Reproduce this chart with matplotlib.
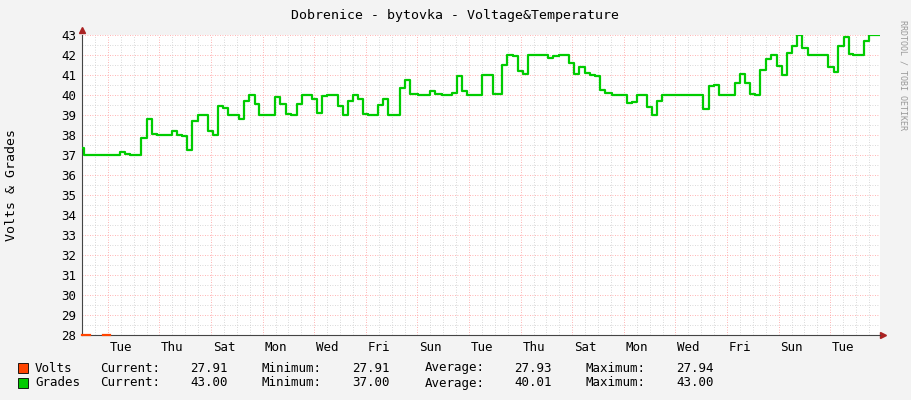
import numpy as np
import matplotlib
matplotlib.use('Agg')
from matplotlib import pyplot as plt

# step series, start times in days since the first Monday 00:00
grades_t = [0, 0.09, 1.47, 1.67, 1.86, 2.29, 2.51, 2.70, 2.90, 3.50, 3.67, 3.89, 4.08,
            4.28, 4.48, 4.90, 5.09, 5.28, 5.48, 5.67, 6.09, 6.29, 6.47, 6.71, 6.87,
            7.48, 7.67, 7.90, 8.10, 8.32, 8.52, 8.90, 9.10, 9.29, 9.48, 9.93, 10.13,
            10.32, 10.52, 10.71, 10.90, 11.10, 11.48, 11.68, 11.87, 12.33, 12.52,
            12.71, 13.03, 13.49, 13.68, 13.94, 14.33, 14.52, 14.72, 14.91, 15.49,
            15.92, 16.27, 16.46, 16.72, 16.91, 17.10, 17.30, 18.07, 18.27, 18.47,
            18.89, 19.08, 19.28, 19.50, 19.69, 19.88, 20.08, 20.27, 20.53, 21.11,
            21.31, 21.50, 21.89, 22.08, 22.28, 22.47, 24.08, 24.31, 24.51, 24.70,
            25.31, 25.50, 25.70, 25.89, 26.09, 26.28, 26.50, 26.71, 26.93, 27.12,
            27.31, 27.51, 27.70, 27.89, 28.15, 28.93, 29.13, 29.32, 29.52, 29.71,
            29.90, 30.32, 30.51, 30.93]
grades_v = [37.35, 37.0, 37.15, 37.07, 37.0, 37.87, 38.8, 38.03, 38.0, 38.2, 38.0, 37.95,
            37.25, 38.7, 39.0, 38.2, 38.0, 39.45, 39.35, 39.0, 38.8, 39.7, 40.0, 39.55,
            39.0, 39.9, 39.55, 39.05, 39.0, 39.55, 40.0, 39.8, 39.1, 39.95, 40.0, 39.45,
            39.0, 39.7, 40.0, 39.8, 39.05, 39.0, 39.5, 39.8, 39.0, 40.35, 40.75, 40.05,
            40.0, 40.2, 40.05, 40.0, 40.1, 40.95, 40.2, 40.0, 41.0, 40.05, 41.5, 42.0,
            41.97, 41.2, 41.05, 42.0, 41.85, 41.95, 42.0, 41.6, 41.05, 41.4, 41.1, 41.0,
            40.97, 40.25, 40.1, 40.0, 39.6, 39.65, 40.0, 39.4, 39.0, 39.7, 40.0, 39.3,
            40.45, 40.5, 40.0, 40.6, 41.05, 40.6, 40.05, 40.0, 41.25, 41.8, 42.0, 41.45,
            41.0, 42.1, 42.45, 43.0, 42.35, 42.0, 41.4, 41.15, 42.45, 42.9, 42.05, 42.0,
            42.7, 43.0, 43.0]
volts_t = [0.0, 0.3, 0.8, 1.1]
volts_v = [28.02, np.nan, 28.02, 28.02]

day_names = ['Mon', 'Tue', 'Wed', 'Thu', 'Fri', 'Sat', 'Sun']
legend_rows = [('Volts', '#ff4400', ['27.91', '27.91', '27.93', '27.94']),
               ('Grades', '#00cc00', ['43.00', '37.00', '40.01', '43.00'])]

mono = 'DejaVu Sans Mono'
fig = plt.figure(figsize=(9.11, 4.0), dpi=100, facecolor='#f3f3f3')
ax = fig.add_axes([82 / 911, 65 / 400, 798 / 911, 300 / 400], facecolor='white')

xmax = 30.93
ax.set_xlim(0, xmax)
ax.set_ylim(28, 43)

# grid: minor every 12 h / 0.5, major every 2 days / 1
for x in np.arange(0.5, xmax, 0.5):
    major = abs((x - 1) % 2) < 1e-6
    ax.axvline(x, color='#ff9999' if major else '#cccccc', lw=0.6,
               ls=(0, (1, 2)), zorder=0)
for y in np.arange(28.5, 43.01, 0.5):
    major = abs(y % 1) < 1e-6
    ax.axhline(y, color='#ff9999' if major else '#cccccc', lw=0.6,
               ls=(0, (1, 2)), zorder=0)

ax.step(grades_t, grades_v, where='post', color='#00cc00', lw=1.6, zorder=3)
ax.step(volts_t, volts_v, where='post', color='#ff4400', lw=1.6, zorder=3,
        clip_on=False)

ax.set_yticks(np.arange(28, 44, 1))
ax.set_yticklabels([str(v) for v in range(28, 44)], fontfamily=mono, fontsize=9)
day_pos = np.arange(1.5, xmax, 2)
ax.set_xticks(day_pos)
ax.set_xticklabels([day_names[int(d) % 7] for d in day_pos], fontfamily=mono, fontsize=9)
ax.tick_params(axis='both', length=0, pad=4, colors='#000000')
for s in ['top', 'right']:
    ax.spines[s].set_visible(False)
for s in ['left', 'bottom']:
    ax.spines[s].set_color('#444444')
    ax.spines[s].set_linewidth(0.8)
ax.plot([0], [43.25], marker='^', color='#aa2222', ms=5, clip_on=False)
ax.plot([xmax + 0.12], [28], marker='>', color='#aa2222', ms=5, clip_on=False)

fig.text(455 / 911, 1 - 15 / 400, 'Dobrenice - bytovka - Voltage&Temperature',
         ha='center', va='center', fontfamily=mono, fontsize=9.5)
fig.text(12 / 911, 1 - 185 / 400, 'Volts & Grades', rotation=90,
         ha='center', va='center', fontfamily=mono, fontsize=9.5)
fig.text(903 / 911, 1 - 75 / 400, 'RRDTOOL / TOBI OETIKER', rotation=-90,
         ha='center', va='center', fontfamily=mono, fontsize=6, color='#999999')

for i, (name, col, vals) in enumerate(legend_rows):
    yy = 1 - (368 + 15 * i) / 400
    fig.patches.append(plt.Rectangle((18 / 911, yy - 5 / 400), 10 / 911, 10 / 400,
                                     transform=fig.transFigure, facecolor=col,
                                     edgecolor='black', lw=0.6))
    fig.text(35 / 911, yy, name, va='center', fontfamily=mono, fontsize=9)
    for j, (lab, lx, vx) in enumerate(zip(['Current:', 'Minimum:', 'Average:', 'Maximum:'],
                                           [100, 262, 425, 586], [228, 390, 552, 714])):
        fig.text(lx / 911, yy, lab, va='center', fontfamily=mono, fontsize=9)
        fig.text(vx / 911, yy, vals[j], va='center', ha='right', fontfamily=mono, fontsize=9)

fig.savefig('out.png', dpi=100, facecolor=fig.get_facecolor())
